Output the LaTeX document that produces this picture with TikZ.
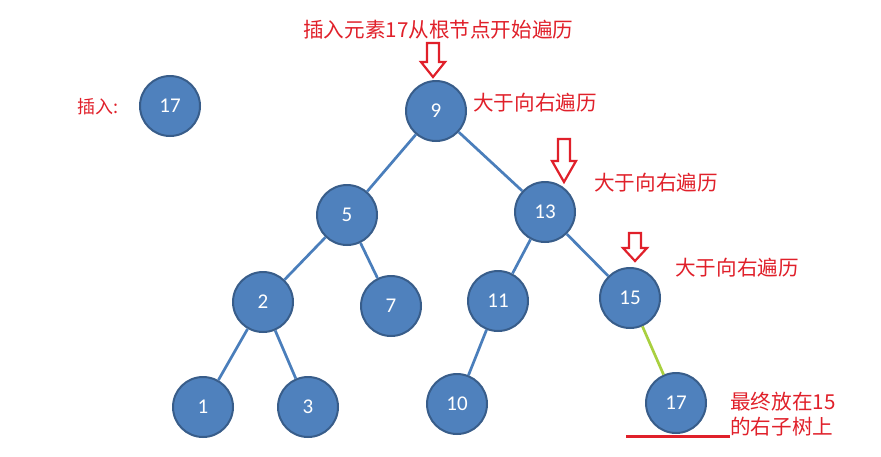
\documentclass[tikz,border=0pt]{standalone}
\usepackage{fontspec}
\setmainfont{Carlito}
\newfontfamily\cjk{Noto Sans CJK SC}
\definecolor{nodefill}{HTML}{4F81BD}
\definecolor{nodeborder}{HTML}{385D8A}
\definecolor{edgeblue}{HTML}{4A7EBB}
\definecolor{greenedge}{HTML}{A9D03F}
\definecolor{annred}{HTML}{E0202A}
\newcommand\hollowdown[4]{%
  \draw[redarrow] (#1-6,#2) -- (#1+6,#2) -- (#1+6,#3-#4) -- (#1+12,#3-#4) -- (#1,#3) -- (#1-12,#3-#4) -- (#1-6,#3-#4) -- cycle;}
\begin{document}
\begin{tikzpicture}[x=1pt,y=-1pt,
  bnode/.style={circle,draw=nodeborder,line width=2pt,fill=nodefill,minimum size=60pt,inner sep=0pt,text=white,font=\fontsize{21}{21}\selectfont},
  edge/.style={draw=edgeblue,line width=2.7pt},
  newedge/.style={draw=greenedge,line width=2.7pt},
  redarrow/.style={draw=annred,fill=white,line width=2.2pt,line join=miter},
  note/.style={text=annred,font=\cjk\fontsize{20.6}{25}\selectfont,inner sep=0pt,anchor=west,align=left}]
\useasboundingbox (0,0) rectangle (881,456);

% nodes
\node[bnode] (ins) at (170,106) {17};
\node[bnode] (n9) at (436,111) {9};
\node[bnode] (n5) at (347,215) {5};
\node[bnode] (n13) at (545,212) {13};
\node[bnode] (n2) at (263,302) {2};
\node[bnode] (n7) at (391,306) {7};
\node[bnode] (n11) at (498,301) {11};
\node[bnode] (n15) at (630,298) {15};
\node[bnode] (n1) at (203,407) {1};
\node[bnode] (n3) at (308,407) {3};
\node[bnode] (n10) at (457,404) {10};
\node[bnode] (n17) at (676,403) {17};

% edges
\draw[edge] (n9) -- (n5);
\draw[edge] (n9) -- (n13);
\draw[edge] (n5) -- (n2);
\draw[edge] (n5) -- (n7);
\draw[edge] (n2) -- (n1);
\draw[edge] (n2) -- (n3);
\draw[edge] (n13) -- (n11);
\draw[edge] (n13) -- (n15);
\draw[edge] (n11) -- (n10);
\draw[newedge] (n15) -- (n17);

% annotations
\node[note] (t0) at (303,30) {插入元素17从根节点开始遍历};
\node[note,font=\cjk\fontsize{18}{20}\selectfont] (tins) at (77,107) {插入:};
\node[note] (t9) at (473,103) {大于向右遍历};
\node[note] (t13) at (594,183) {大于向右遍历};
\node[note] (t15) at (675,268) {大于向右遍历};
\node[note] (tend) at (730,414) {最终放在15\\的右子树上};

\hollowdown{433}{43}{77}{15}
\hollowdown{564}{139}{182}{21}
\hollowdown{635}{233}{261}{13}

\coordinate (u1) at (626,436);
\coordinate (u2) at (730,436);
\draw[draw=annred,line width=3pt] (u1) -- (u2);
\end{tikzpicture}
\end{document}
